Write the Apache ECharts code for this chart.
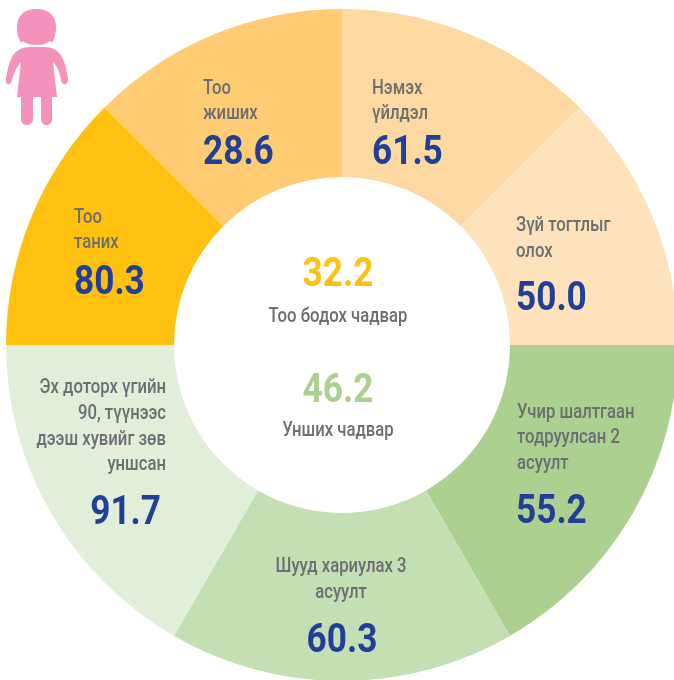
<!DOCTYPE html>
<html>
<head>
<meta charset="utf-8">
<style>html,body{margin:0;padding:0;background:#fff}#c{width:674px;height:680px}</style>
<script src="https://cdn.jsdelivr.net/npm/echarts@6/dist/echarts.min.js"></script>
</head>
<body>
<div id="c"></div>
<script>
// --- data ---
const categoryLines = [
  ['Нэмэх', 'үйлдэл'],
  ['Зүй тогтлыг', 'олох'],
  ['Учир шалтгаан', 'тодруулсан 2', 'асуулт'],
  ['Шууд хариулах 3', 'асуулт'],
  ['Эх доторх үгийн', '90, түүнээс', 'дээш хувийг зөв', 'уншсан'],
  ['Тоо', 'таних'],
  ['Тоо', 'жиших']
];
const scores = ['61.5', '50.0', '55.2', '60.3', '91.7', '80.3', '28.6'];
const sliceWeights = [3, 3, 4, 4, 4, 3, 3];
const summaryNames = ['Тоо бодох чадвар', 'Унших чадвар'];
const summaryScores = ['32.2', '46.2'];

// --- styling / layout ---
const sliceColors = ['#FDD8A0', '#FDE2BC', '#ACD08F', '#C5DFB5', '#E1EED9', '#FFC010', '#FFCB73'];
const summaryColors = ['#FFC010', '#ACD08F'];
const NAVY = '#203F99', GRAY = '#6D6E71';
const FONT = 'Roboto,sans-serif';
const LABEL_SIZE = 21, LABEL_SX = 0.795, NUM_SIZE = 40, NUM_SX = 0.88;
const labelLayout = [
  {x: 372, align: 'left', lines: [94, 119], numX: 372, num: 164.5},
  {x: 516, align: 'left', lines: [231, 257], numX: 516, num: 310.5},
  {x: 517, align: 'left', lines: [418, 443, 469], numX: 516, num: 523.5},
  {x: 341, align: 'center', lines: [572, 598], numX: 342, num: 652.5},
  {x: 166, align: 'right', lines: [393, 419, 445, 470], numX: 161, num: 524.5},
  {x: 74, align: 'left', lines: [223, 248], numX: 74, num: 294.5},
  {x: 203, align: 'left', lines: [94, 119], numX: 203, num: 164.5}
];
const summaryLayout = [
  {x: 338, num: 286.5, label: 322},
  {x: 338, num: 402.5, label: 436}
];
const girlPath = 'M21 43C18 38 17 33 17 27C17 16 24 9 36.5 9C49 9 56 16 56 27C56 33 55 38 52 43L50 41C46 44 42 45 36.5 45C31 45 27 44 23 41Z' +
  'M30 47L44 47C52 47 58 50 62 57C65 63 67 71 68 79C68.5 86 62 86 61 80C60 73 58 68 53 62L57 97L52 97L52 119C52 127 41 127 41 119L41 97L33 97L33 119C33 127 21 127 21 119L21 97L17 97L21 62C16 68 14 73 12 80C11 86 5 86 6 79C7 71 9 63 12 57C16 50 22 47 30 47Z';
echarts.graphic.registerShape('girlIcon', echarts.graphic.extendPath(girlPath));

function txt(text, x, baseline, align, size, weight, color, sx) {
  return {
    type: 'text', x: x, y: baseline - size * 0.27, scaleX: sx, silent: true, z: 10,
    style: {text: text, x: 0, y: 0, align: align, verticalAlign: 'middle',
      fontFamily: FONT, fontSize: size, fontWeight: weight, fill: color}
  };
}
const texts = [];
categoryLines.forEach(function (lines, i) {
  const l = labelLayout[i];
  lines.forEach(function (t, j) { texts.push(txt(t, l.x, l.lines[j], l.align, LABEL_SIZE, 500, GRAY, LABEL_SX)); });
  texts.push(txt(scores[i], l.numX, l.num, l.align, NUM_SIZE, 'bold', NAVY, NUM_SX));
});
summaryNames.forEach(function (n, i) {
  const s = summaryLayout[i];
  texts.push(txt(summaryScores[i], s.x, s.num, 'center', NUM_SIZE, 'bold', summaryColors[i], NUM_SX));
  texts.push(txt(n, s.x, s.label, 'center', LABEL_SIZE, 500, GRAY, LABEL_SX));
});

const chart = echarts.init(document.getElementById('c'), null, {renderer: 'canvas', width: 674, height: 680});
chart.setOption({
  animation: false,
  backgroundColor: '#fff',
  series: [{
    type: 'pie',
    center: [342, 345],
    radius: [168, 336],
    startAngle: 90,
    clockwise: true,
    silent: true,
    label: {show: false},
    labelLine: {show: false},
    data: sliceWeights.map(function (w, i) {
      return {value: w, name: categoryLines[i].join(' '), itemStyle: {color: sliceColors[i]}};
    })
  }],
  graphic: [{
    type: 'girlIcon', silent: true, z: 10,
    style: {fill: '#F592BC'}
  }].concat(texts)
});
</script>
</body>
</html>
